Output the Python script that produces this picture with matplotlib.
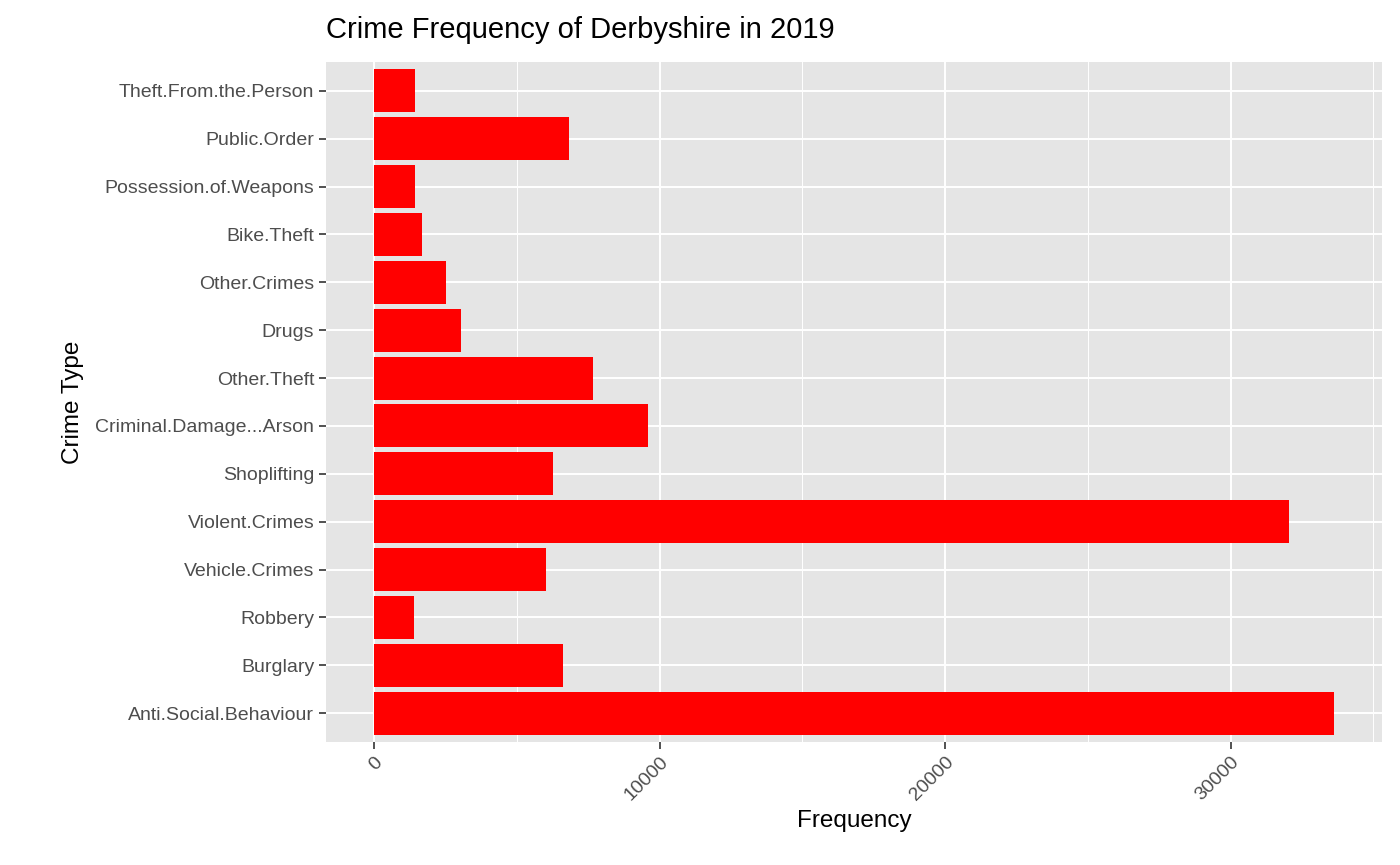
import matplotlib
matplotlib.use("Agg")
import matplotlib.pyplot as plt

categories = ["Anti.Social.Behaviour","Burglary","Robbery","Vehicle.Crimes","Violent.Crimes",
              "Shoplifting","Criminal.Damage...Arson","Other.Theft","Drugs","Other.Crimes",
              "Bike.Theft","Possession.of.Weapons","Public.Order","Theft.From.the.Person"]
values = [33620, 6620, 1400, 6030, 32060, 6270, 9580, 7670, 3030, 2510, 1670, 1420, 6830, 1430]
xticks = [0, 10000, 20000, 30000]

plt.rcParams['font.family'] = ['Liberation Sans', 'DejaVu Sans']
fig = plt.figure(figsize=(14, 8.65), dpi=100)
ax = fig.add_axes([326/1400, 1-742/865, (1382-326)/1400, (742-62)/865])
ax.set_facecolor('#E5E5E5')
ypos = list(range(len(categories)))
ax.barh(ypos, values, height=0.9, color='#FF0000', zorder=3)
ax.set_yticks(ypos)
ax.set_yticklabels(categories, fontsize=14, color='#4D4D4D')
ax.set_xticks(xticks)
ax.set_xticks([5000, 15000, 25000, 35000], minor=True)
ax.set_xticklabels([str(t) for t in xticks], rotation=45, ha='right', rotation_mode='anchor', fontsize=14, color='#4D4D4D')
ax.set_xlim(-0.05*33620, 33620*1.05)
ax.set_ylim(-0.6, len(categories)-0.4)
ax.grid(which='major', color='white', linewidth=1.4, zorder=1)
ax.grid(which='minor', axis='x', color='white', linewidth=0.7, zorder=1)
for s in ax.spines.values():
    s.set_visible(False)
ax.tick_params(which='major', length=5, color='#333333', width=1.2)
ax.tick_params(which='minor', length=0)
ax.set_xlabel('Frequency', fontsize=17.5, labelpad=4)
ax.set_ylabel('Crime Type', fontsize=17.5, labelpad=8)
fig.text(326/1400, 1-30/865, 'Crime Frequency of Derbyshire in 2019', fontsize=21, va='center', ha='left')
fig.savefig('out.png', dpi=100)
